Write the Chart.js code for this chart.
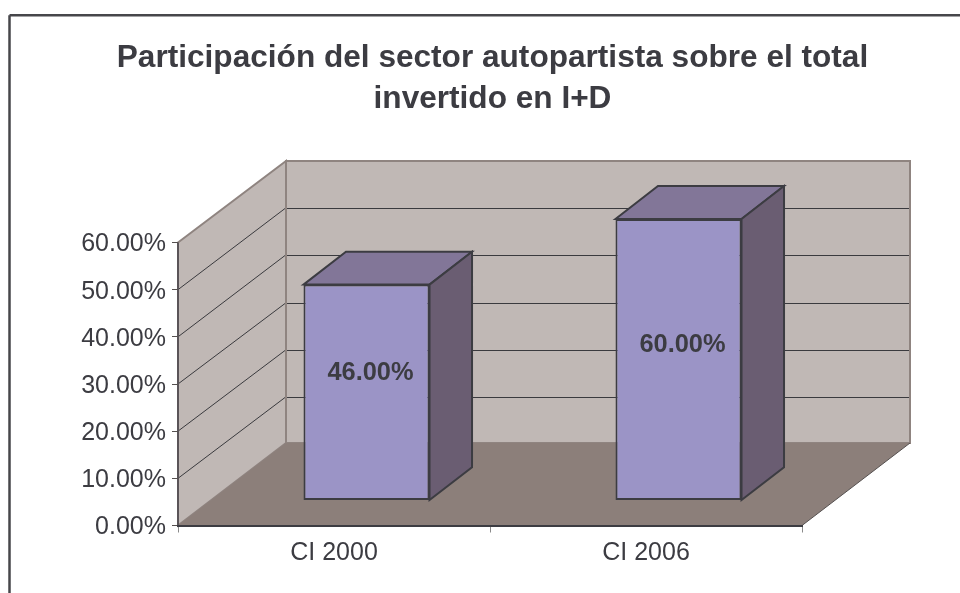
<!DOCTYPE html>
<html lang="es">
<head>
    <meta charset="UTF-8">
    <title>Participación del sector autopartista</title>
    <script src="https://cdn.jsdelivr.net/npm/chart.js"></script>
    <style>
        html, body { margin: 0; padding: 0; background: #fff; }
        canvas { display: block; }
    </style>
</head>
<body>
    <canvas id="chart" width="960" height="593"></canvas>
    <script>
        const titleLines = ['Participación del sector autopartista sobre el total', 'invertido en I+D'];
        const categories = ['CI 2000', 'CI 2006'];
        const values = [46, 60];
        const yTickLabels = ['0.00%', '10.00%', '20.00%', '30.00%', '40.00%', '50.00%', '60.00%'];

        const textColor = '#3c3c42';
        const font = '"Liberation Sans", Arial, sans-serif';

        // depth of the fake 3D box and of the bars inside it
        const wallDx = 108, wallDy = -81.5, floorDy = -82.5;
        const barOffsetX = 32.5, barOffsetY = -25;
        const barDx = 42.5, barDy = -33;
        const barScaleY = 0.995;

        function poly(ctx, pts, fill, stroke, lineWidth) {
            ctx.beginPath();
            pts.forEach((p, i) => i ? ctx.lineTo(p[0], p[1]) : ctx.moveTo(p[0], p[1]));
            ctx.closePath();
            ctx.fillStyle = fill;
            ctx.fill();
            if (stroke) {
                ctx.strokeStyle = stroke;
                ctx.lineWidth = lineWidth;
                ctx.stroke();
            }
        }

        function line(ctx, x1, y1, x2, y2, color, width) {
            ctx.strokeStyle = color;
            ctx.lineWidth = width;
            ctx.beginPath();
            ctx.moveTo(x1, y1);
            ctx.lineTo(x2, y2);
            ctx.stroke();
        }

        const box3d = {
            id: 'box3d',
            beforeDraw(chart) {
                const ctx = chart.ctx;
                const { left, right, top, bottom } = chart.chartArea;
                const y = chart.scales.y;
                const backL = left + wallDx, backR = right + wallDx;

                ctx.save();
                // frame of the picture: only top and left edges are inside the crop
                line(ctx, 9.5, 15.2, 960, 15.2, '#46464a', 2.5);
                line(ctx, 9.5, 15.2, 9.5, 593, '#46464a', 2.5);

                // back wall and side wall
                poly(ctx, [[backL, top + wallDy], [backR, top + wallDy], [backR, bottom + floorDy], [backL, bottom + floorDy]], '#c0b8b5', '#8f8480', 2);
                poly(ctx, [[left, top], [backL, top + wallDy], [backL, bottom + floorDy], [left, bottom]], '#c0b8b5', '#8f8480', 2);

                // grid lines run along both walls
                y.ticks.forEach(t => {
                    if (t.value === 0 || t.value === y.max) return;
                    const py = y.getPixelForValue(t.value);
                    const backY = Math.round(py + wallDy) + 0.5;
                    line(ctx, left, py, backL - 1, backY, '#3a3a3e', 1);
                    line(ctx, backL + 1, backY, backR - 1, backY, '#3a3a3e', 1);
                });

                // floor
                poly(ctx, [[left, bottom], [backL, bottom + floorDy], [backR, bottom + floorDy], [right, bottom]], '#8c7f7a');
                line(ctx, backR, bottom + floorDy, right, bottom, '#55504f', 1);

                // left axis line over the side wall
                line(ctx, left, top, left, bottom, '#5a5458', 2);
                ctx.restore();
            },
            beforeDatasetsDraw(chart) {
                const ctx = chart.ctx;
                const base = chart.scales.y.getPixelForValue(0);
                ctx.save();
                // bars stand inside the box, not on the front edge
                ctx.translate(barOffsetX, barOffsetY + base * (1 - barScaleY));
                ctx.scale(1, barScaleY);
                chart.getDatasetMeta(0).data.forEach(bar => {
                    const { x, y, base: b, width } = bar.getProps(['x', 'y', 'base', 'width']);
                    const l = x - width / 2, r = x + width / 2;
                    poly(ctx, [[l, y], [l + barDx, y + barDy], [r + barDx, y + barDy], [r, y]], '#827698', '#3c3c42', 2);
                    poly(ctx, [[r, y], [r + barDx, y + barDy], [r + barDx, b + barDy], [r, b]], '#6a5d72', '#3c3c42', 2);
                });
            },
            afterDatasetsDraw(chart) {
                const ctx = chart.ctx;
                ctx.restore();
                ctx.save();
                ctx.fillStyle = textColor;
                ctx.textAlign = 'center';
                ctx.textBaseline = 'middle';
                ctx.font = 'bold 25.4px ' + font;
                chart.getDatasetMeta(0).data.forEach((bar, i) => {
                    const { x, y, base: b } = bar.getProps(['x', 'y', 'base']);
                    // labels sit a bit above the middle of the front face
                    ctx.fillText(values[i].toFixed(2) + '%', x + barOffsetX + 4, b - 60.3 - 0.424 * (b - y));
                });
                ctx.restore();
            },
            afterDraw(chart) {
                const ctx = chart.ctx;
                ctx.save();
                ctx.fillStyle = textColor;
                ctx.textAlign = 'center';
                ctx.textBaseline = 'alphabetic';
                ctx.font = 'bold 31.6px ' + font;
                titleLines.forEach((text, i) => ctx.fillText(text, 492.5, 67 + i * 41.3));
                ctx.restore();
            }
        };

        new Chart(document.getElementById('chart'), {
            type: 'bar',
            data: {
                labels: categories,
                datasets: [{
                    data: values,
                    backgroundColor: '#9b94c6',
                    borderColor: '#3c3c42',
                    borderWidth: 2,
                    borderSkipped: false,
                    barPercentage: 0.404,
                    categoryPercentage: 1,
                    clip: false
                }]
            },
            options: {
                responsive: false,
                animation: false,
                layout: { padding: { left: 0, right: 158, top: 242.5, bottom: 0 } },
                plugins: {
                    legend: { display: false },
                    title: { display: false },
                    tooltip: { enabled: false }
                },
                scales: {
                    x: {
                        afterFit: s => { s.height = 67.5; },
                        border: { color: '#3c3c42', width: 2 },
                        grid: { drawOnChartArea: false, color: '#8a8a8a', tickLength: 7 },
                        ticks: { color: textColor, font: { family: font, size: 25 }, padding: 6 }
                    },
                    y: {
                        min: 0,
                        max: 60,
                        afterFit: s => { s.width = 178; },
                        border: { display: false },
                        grid: { drawOnChartArea: false, color: '#55504f', tickLength: 6 },
                        ticks: {
                            stepSize: 10,
                            color: textColor,
                            font: { family: font, size: 25 },
                            padding: 6,
                            labelOffset: 2,
                            callback: (v, i) => yTickLabels[i]
                        }
                    }
                }
            },
            plugins: [box3d]
        });
    </script>
</body>
</html>
